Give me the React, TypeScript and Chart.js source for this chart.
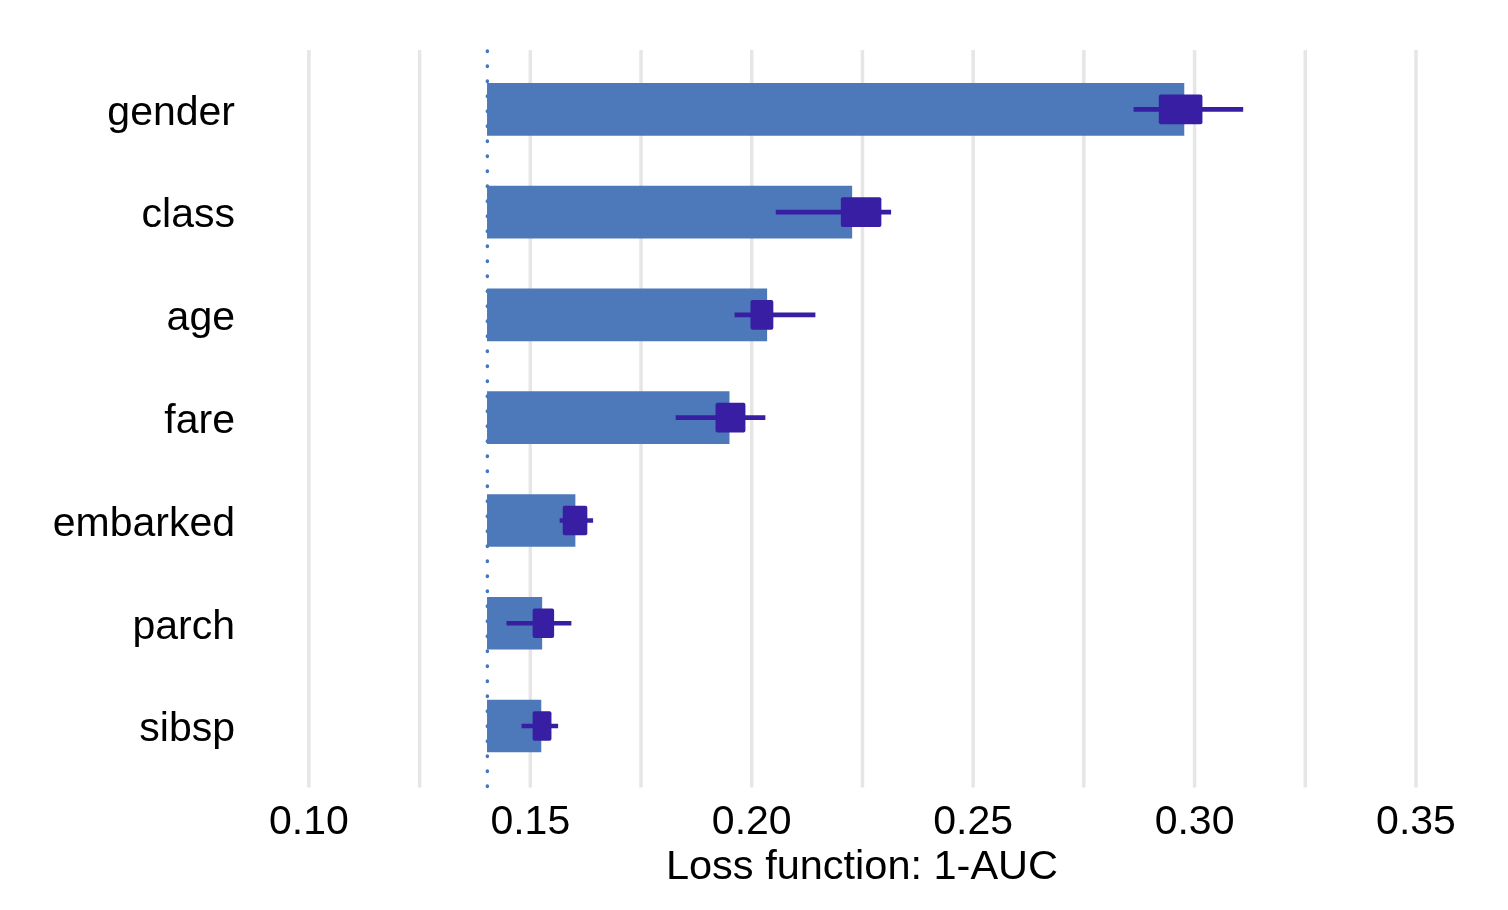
import { Chart, registerables } from 'chart.js';
import { useEffect, useRef } from 'react';

Chart.register(...registerables);

const variables = ['gender', 'class', 'age', 'fare', 'embarked', 'parch', 'sibsp'];

// full model loss, where every bar starts
const baseline = 0.1403;

// mean dropout loss after permuting each variable
const dropoutLoss = [0.2976, 0.2226, 0.2034, 0.1949, 0.1601, 0.1526, 0.1524];

// boxplot over the permutation rounds
const boxLow = [0.292, 0.2202, 0.1998, 0.1919, 0.1574, 0.1506, 0.1506];
const boxHigh = [0.3017, 0.2292, 0.2048, 0.1985, 0.1628, 0.1553, 0.1547];
const whiskerLow = [0.2863, 0.2055, 0.1962, 0.1829, 0.1567, 0.1447, 0.1481];
const whiskerHigh = [0.3109, 0.2314, 0.2143, 0.203, 0.1641, 0.1592, 0.1562];

const axisTitle = 'Loss function: 1-AUC';

const FONT = '"Liberation Sans", Arial, Helvetica, sans-serif';

const backdrop = {
  id: 'backdrop',
  beforeDatasetsDraw(chart: any) {
    const { ctx, chartArea, scales } = chart;
    const x = scales.x;
    ctx.save();
    // vertical grid, a bit taller than the bars' area
    ctx.strokeStyle = '#e6e6e6';
    ctx.lineWidth = 3.5;
    x.ticks.forEach((t: any) => {
      const px = x.getPixelForValue(t.value);
      ctx.beginPath();
      ctx.moveTo(px, chartArea.top - 8);
      ctx.lineTo(px, chartArea.bottom + 10);
      ctx.stroke();
    });
    // dotted reference line at the full model loss
    const bx = x.getPixelForValue(baseline);
    ctx.strokeStyle = '#4378bf';
    ctx.lineWidth = 3.5;
    ctx.lineCap = 'round';
    ctx.setLineDash([0.5, 14.5]);
    ctx.beginPath();
    ctx.moveTo(bx, chartArea.top - 7);
    ctx.lineTo(bx, chartArea.bottom + 9);
    ctx.stroke();
    ctx.restore();
  },
};

const App = () => {
  const canvasRef = useRef<HTMLCanvasElement | null>(null);

  useEffect(() => {
    if (!canvasRef.current) return;

    const chart = new Chart(canvasRef.current, {
      type: 'bar',
      data: {
        labels: variables,
        datasets: [
          {
            data: boxLow.map((v, i) => [v, boxHigh[i]]),
            backgroundColor: '#371ea3',
            barThickness: 29,
            borderRadius: 2,
            borderSkipped: false,
            grouped: false,
          },
          {
            data: whiskerLow.map((v, i) => [v, whiskerHigh[i]]),
            backgroundColor: '#371ea3',
            barThickness: 4,
            grouped: false,
          },
          {
            data: dropoutLoss.map((v) => [baseline, v]),
            backgroundColor: '#4d78ba',
            barThickness: 52,
            grouped: false,
          },
        ] as any,
      },
      options: {
        indexAxis: 'y',
        animation: false,
        responsive: true,
        maintainAspectRatio: false,
        layout: { padding: { top: 58, right: 34, bottom: 0, left: 0 } },
        plugins: {
          legend: { display: false },
          tooltip: { enabled: false },
        },
        scales: {
          x: {
            type: 'linear',
            min: 0.0867,
            max: 0.3631,
            grid: { display: false },
            border: { display: false },
            ticks: {
              stepSize: 0.025,
              includeBounds: false,
              autoSkip: false,
              maxRotation: 0,
              padding: 13,
              color: '#000',
              font: { family: FONT, size: 41 },
              callback: (v: any) => {
                const n = Number(v);
                const k = n / 0.05;
                return Math.abs(k - Math.round(k)) < 1e-6 ? n.toFixed(2) : '';
              },
            },
            title: {
              display: true,
              text: axisTitle,
              color: '#000',
              font: { family: FONT, size: 41.5 },
              padding: { top: 0, bottom: 18 },
            },
            afterFit: (scale: any) => {
              scale.height = 132.6;
            },
          },
          y: {
            grid: { display: false, drawTicks: false },
            border: { display: false },
            ticks: {
              padding: 15,
              labelOffset: 4,
              color: '#000',
              font: { family: FONT, size: 41 },
            },
            afterFit: (scale: any) => {
              scale.width = 250;
            },
          },
        },
      },
      plugins: [backdrop],
    });

    return () => {
      chart.destroy();
    };
  }, []);

  return (
    <div style={{ position: 'fixed', left: 0, top: 0, width: 1508, height: 910, background: '#fff' }}>
      <canvas ref={canvasRef} />
    </div>
  );
};

export default App;
